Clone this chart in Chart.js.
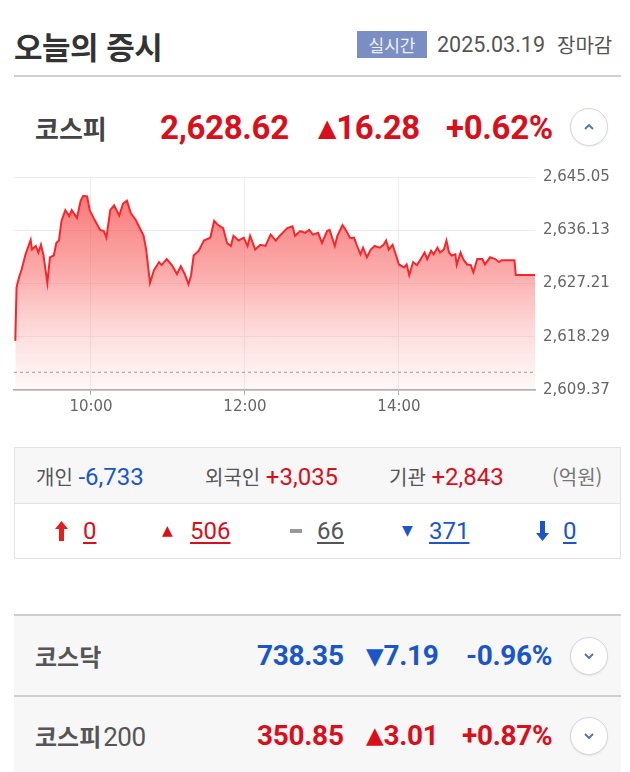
<!DOCTYPE html>
<html lang="ko">
<head>
<meta charset="utf-8">
<script src="https://cdn.jsdelivr.net/npm/chart.js@4.4.1/dist/chart.umd.min.js"></script>
<style>
    html, body { margin: 0; padding: 0; background: #fff; }
    body { width: 630px; height: 772px; position: relative; overflow: hidden; font-family: 'Noto Sans CJK KR', 'Noto Sans', sans-serif; }
    .abs { position: absolute; white-space: nowrap; }
    .num { font-family: Roboto, 'Liberation Sans', sans-serif; }
    .red { color: #d9101c; }
    .blue { color: #1a56c9; }
    .mid { transform: translateY(-50%); }
    .circle { position: absolute; width: 36px; height: 36px; border: 1.5px solid #d3d7e0; border-radius: 50%; background: #fff; box-shadow: 0 1px 2px rgba(0,0,0,0.08); }
    .circle svg { position: absolute; left: 11px; top: 11px; }
    u { text-decoration-thickness: 1.5px; text-underline-offset: 3px; }
</style>
</head>
<body>

<div class="abs mid" style="left:14px;top:45px;font-size:31px;font-weight:700;color:#333;letter-spacing:-0.5px">오늘의 증시</div>
<div class="abs" style="left:357px;top:31px;width:70px;height:27px;background:#7a8ec4;color:#eef1fa;font-size:17px;line-height:27px;text-align:center">실시간</div>
<div class="abs mid num" style="left:437px;top:44px;font-size:21.5px;color:#555">2025.03.19</div>
<div class="abs mid" style="left:557px;top:44px;font-size:20px;color:#555">장마감</div>
<div class="abs" style="left:14px;top:75px;width:607px;height:2px;background:#d0d0d0"></div>

<div class="abs mid" style="left:35px;top:127px;font-size:26px;font-weight:700;color:#444">코스피</div>
<div class="abs mid num red" style="left:160px;top:127px;font-size:33px;font-weight:700;letter-spacing:-0.3px">2,628.62</div>
<div class="abs mid num red" style="left:318px;top:127px;font-size:33px;font-weight:700;letter-spacing:-0.3px"><span style="font-size:24px;font-family:'DejaVu Sans';position:relative;top:-3px">▲</span>16.28</div>
<div class="abs mid num red" style="left:446px;top:127px;font-size:33px;font-weight:700;letter-spacing:-0.3px">+0.62%</div>
<div class="circle" style="left:570px;top:108px"><svg width="14" height="14" viewBox="0 0 14 14"><polyline points="3,9 7,5 11,9" fill="none" stroke="#4a6fc0" stroke-width="1.8"/></svg></div>

<div class="abs" style="left:0;top:160px;width:630px;height:260px"><canvas id="char-kospi"></canvas></div>

<div class="abs" style="left:14px;top:447px;width:605px;height:110px;border:1px solid #e3e3e3"></div>
<div class="abs" style="left:15px;top:448px;width:605px;height:55px;background:#f7f7f7;border-bottom:1px solid #e3e3e3"></div>
<div class="abs mid" style="left:36px;top:476px;font-size:20px;color:#555">개인 <span class="num blue" style="font-size:24px">-6,733</span></div>
<div class="abs mid" style="left:205px;top:476px;font-size:20px;color:#555">외국인 <span class="num red" style="font-size:24px">+3,035</span></div>
<div class="abs mid" style="left:389px;top:476px;font-size:20px;color:#555">기관 <span class="num red" style="font-size:24px">+2,843</span></div>
<div class="abs mid" style="left:552px;top:476px;font-size:20px;color:#777">(억원)</div>

<div class="abs" style="left:55px;top:521px"><svg width="13" height="20" viewBox="0 0 13 20"><polygon points="6.5,0 13,8 9,8 9,20 4,20 4,8 0,8" fill="#e0201c"/></svg></div>
<div class="abs mid num red" style="left:83px;top:531px;font-size:24px"><u>0</u></div>
<div class="abs mid red" style="left:162px;top:530px;font-size:14px;font-family:'DejaVu Sans'">▲</div>
<div class="abs mid num red" style="left:190px;top:531px;font-size:24px"><u>506</u></div>
<div class="abs" style="left:290px;top:529px;width:12px;height:4px;background:#999"></div>
<div class="abs mid num" style="left:317px;top:531px;font-size:24px;color:#555"><u>66</u></div>
<div class="abs mid blue" style="left:402px;top:530px;font-size:14px;font-family:'DejaVu Sans'">▼</div>
<div class="abs mid num blue" style="left:429px;top:531px;font-size:24px"><u>371</u></div>
<div class="abs" style="left:536px;top:521px"><svg width="13" height="20" viewBox="0 0 13 20"><polygon points="6.5,20 13,12 9,12 9,0 4,0 4,12 0,12" fill="#1a56c9"/></svg></div>
<div class="abs mid num blue" style="left:563px;top:531px;font-size:24px"><u>0</u></div>

<div class="abs" style="left:14px;top:614px;width:607px;height:79px;background:#f7f7f7;border-top:2px solid #cfcfcf;border-bottom:2px solid #cfcfcf"></div>
<div class="abs" style="left:14px;top:697px;width:607px;height:75px;background:#f7f7f7"></div>

<div class="abs mid" style="left:35px;top:655px;font-size:24px;font-weight:700;color:#555">코스닥</div>
<div class="abs mid num blue" style="left:257px;top:655px;font-size:28px;font-weight:700;letter-spacing:-0.3px">738.35</div>
<div class="abs mid num blue" style="left:366px;top:655px;font-size:28px;font-weight:700;letter-spacing:-0.3px"><span style="font-size:23px;font-family:'DejaVu Sans';position:relative;top:-1px">▼</span>7.19</div>
<div class="abs mid num blue" style="left:466px;top:655px;font-size:28px;font-weight:700;letter-spacing:-0.3px">-0.96%</div>
<div class="circle" style="left:570px;top:637px"><svg width="14" height="14" viewBox="0 0 14 14"><polyline points="3,5 7,9 11,5" fill="none" stroke="#4a6fc0" stroke-width="1.8"/></svg></div>

<div class="abs mid" style="left:35px;top:735px;font-size:24px;font-weight:700;color:#555">코스피<span style="font-weight:400;font-size:26px;margin-left:2px;font-family:Roboto;letter-spacing:-0.5px">200</span></div>
<div class="abs mid num red" style="left:257px;top:735px;font-size:28px;font-weight:700;letter-spacing:-0.3px">350.85</div>
<div class="abs mid num red" style="left:366px;top:735px;font-size:28px;font-weight:700;letter-spacing:-0.3px"><span style="font-size:23px;font-family:'DejaVu Sans';position:relative;top:-2px">▲</span>3.01</div>
<div class="abs mid num red" style="left:462px;top:735px;font-size:28px;font-weight:700;letter-spacing:-0.3px">+0.87%</div>
<div class="circle" style="left:570px;top:717px"><svg width="14" height="14" viewBox="0 0 14 14"><polyline points="3,5 7,9 11,5" fill="none" stroke="#4a6fc0" stroke-width="1.8"/></svg></div>

<script>
// KOSPI intraday, 2025.03.19
const times = [
    '09:01', '09:02', '09:04', '09:06', '09:09', '09:13', '09:14', '09:17', '09:19', '09:21',
    '09:23', '09:26', '09:28', '09:31', '09:33', '09:35', '09:37', '09:40', '09:43', '09:45',
    '09:49', '09:52', '09:54', '09:57', '09:59', '10:02', '10:05', '10:07', '10:10', '10:12',
    '10:15', '10:18', '10:22', '10:25', '10:28', '10:31', '10:35', '10:38', '10:41', '10:43',
    '10:46', '10:49', '10:53', '10:55', '10:59', '11:03', '11:07', '11:10', '11:13', '11:16',
    '11:18', '11:20', '11:24', '11:28', '11:33', '11:36', '11:39', '11:43', '11:46', '11:49',
    '11:51', '11:55', '11:59', '12:02', '12:04', '12:08', '12:12', '12:16', '12:20', '12:24',
    '12:27', '12:33', '12:37', '12:39', '12:43', '12:47', '12:50', '12:53', '12:57', '13:00',
    '13:04', '13:06', '13:10', '13:12', '13:16', '13:19', '13:22', '13:25', '13:27', '13:30',
    '13:32', '13:35', '13:38', '13:41', '13:45', '13:48', '13:50', '13:52', '13:55', '13:57',
    '14:00', '14:04', '14:06', '14:08', '14:11', '14:14', '14:17', '14:20', '14:22', '14:25',
    '14:27', '14:30', '14:32', '14:35', '14:37', '14:39', '14:41', '14:44', '14:45', '14:48',
    '14:50', '14:53', '14:56', '14:58', '15:01', '15:05', '15:07', '15:11', '15:15', '15:18',
    '15:20', '15:30', '15:31', '15:46',
]
const prices = [
    2617.6, 2626.6, 2628.3, 2629.6, 2632.1, 2634.5, 2632.9, 2633.5, 2632.4, 2633.7,
    2631.9, 2627.3, 2631.6, 2631.9, 2634.0, 2634.4, 2637.7, 2639.5, 2638.5, 2639.5,
    2638.2, 2641.1, 2641.9, 2641.8, 2639.5, 2638.2, 2637.0, 2636.2, 2636.0, 2634.9,
    2639.5, 2640.3, 2638.6, 2640.6, 2641.1, 2639.0, 2637.8, 2636.5, 2635.2, 2632.9,
    2627.3, 2629.4, 2630.8, 2630.3, 2631.3, 2630.3, 2628.8, 2630.1, 2628.8, 2627.1,
    2628.6, 2631.9, 2632.7, 2634.4, 2634.9, 2637.7, 2637.0, 2636.5, 2634.0, 2633.5,
    2635.2, 2634.4, 2634.9, 2633.5, 2635.2, 2632.9, 2633.7, 2633.5, 2635.4, 2634.4,
    2635.2, 2636.5, 2636.8, 2635.2, 2636.0, 2635.7, 2636.2, 2635.4, 2635.7, 2634.0,
    2636.0, 2636.2, 2633.5, 2635.2, 2637.0, 2636.0, 2634.8, 2634.9, 2633.7, 2632.1,
    2633.2, 2631.6, 2632.9, 2633.5, 2633.2, 2633.7, 2634.4, 2632.9, 2633.7, 2632.4,
    2630.4, 2629.9, 2630.4, 2628.6, 2630.8, 2630.3, 2631.3, 2632.4, 2631.3, 2632.7,
    2632.1, 2633.2, 2632.4, 2632.9, 2634.4, 2632.4, 2631.9, 2632.1, 2630.3, 2632.4,
    2631.3, 2630.4, 2630.3, 2629.1, 2631.3, 2631.3, 2630.4, 2631.6, 2631.3, 2630.8,
    2631.1, 2631.1, 2628.62, 2628.62,
]
const prevClose = 2612.34
const yTicks = [2609.37, 2618.29, 2627.21, 2636.13, 2645.05]
const timeTicks = ['10:00', '12:00', '14:00']
const sessionStart = '09:00'
const sessionEnd = '15:46'

function toMinutes(t) {
    const [h, m] = t.split(':').map(Number)
    return h * 60 + m
}
const base = toMinutes(sessionStart)
const minutes = (t) => toMinutes(t) - base

let points = []
for (let i = 0; i < times.length; i++) {
    points.push({ x: minutes(times[i]), y: prices[i] })
}

function fillGradient(context) {
    const area = context.chart.chartArea
    if (!area) return 'rgba(250,90,90,0.4)'
    const g = context.chart.ctx.createLinearGradient(0, area.top, 0, area.bottom)
    g.addColorStop(0, 'rgba(246,70,70,0.8)')
    g.addColorStop(0.45, 'rgba(250,110,110,0.58)')
    g.addColorStop(1, 'rgba(255,200,200,0.15)')
    return g
}

new Chart('char-kospi', {
    type: 'line',
    data: {
        datasets: [
            {
                data: points,
                borderColor: '#f8262a',
                borderWidth: 2,
                backgroundColor: fillGradient,
                fill: 'start',
                pointRadius: 0,
                tension: 0,
                order: 1,
            },
            {
                data: [
                    { x: minutes(sessionStart), y: prevClose },
                    { x: minutes(sessionEnd), y: prevClose },
                ],
                borderColor: '#9a9a9a',
                borderWidth: 1,
                borderDash: [3, 3],
                pointRadius: 0,
                fill: false,
                order: 0,
            },
        ],
    },
    options: {
        responsive: true,
        maintainAspectRatio: false,
        animation: false,
        layout: { padding: { left: 14, top: 13, right: 0, bottom: 0 } },
        plugins: {
            legend: { display: false },
            tooltip: { enabled: false },
        },
        scales: {
            x: {
                type: 'linear',
                min: minutes(sessionStart),
                max: minutes(sessionEnd),
                afterBuildTicks: (axis) => {
                    axis.ticks = timeTicks.map((t) => ({ value: minutes(t) }))
                },
                afterFit: (axis) => { axis.height = 30 },
                border: { display: true, color: '#a8a8a8', width: 1.5 },
                grid: { color: '#ececec', lineWidth: 1, tickLength: 5, tickColor: '#b0b0b0' },
                ticks: {
                    padding: 3,
                    color: '#666',
                    font: { family: 'DejaVu Sans', size: 15 },
                    callback: (v) => {
                        const h = Math.floor((v + base) / 60)
                        const m = (v + base) % 60
                        return String(h).padStart(2, '0') + ':' + String(m).padStart(2, '0')
                    },
                },
            },
            y: {
                position: 'right',
                min: yTicks[0],
                max: yTicks[yTicks.length - 1],
                afterBuildTicks: (axis) => {
                    axis.ticks = yTicks.map((v) => ({ value: v }))
                },
                afterFit: (axis) => { axis.width = 95 },
                border: { display: false },
                grid: { color: '#ececec', lineWidth: 1, drawTicks: false },
                ticks: {
                    padding: 8,
                    color: '#666',
                    font: { family: 'DejaVu Sans', size: 15 },
                    callback: (v) => v.toLocaleString('en-US', { minimumFractionDigits: 2, maximumFractionDigits: 2 }),
                },
            },
        },
    },
})
</script>
</body>
</html>
